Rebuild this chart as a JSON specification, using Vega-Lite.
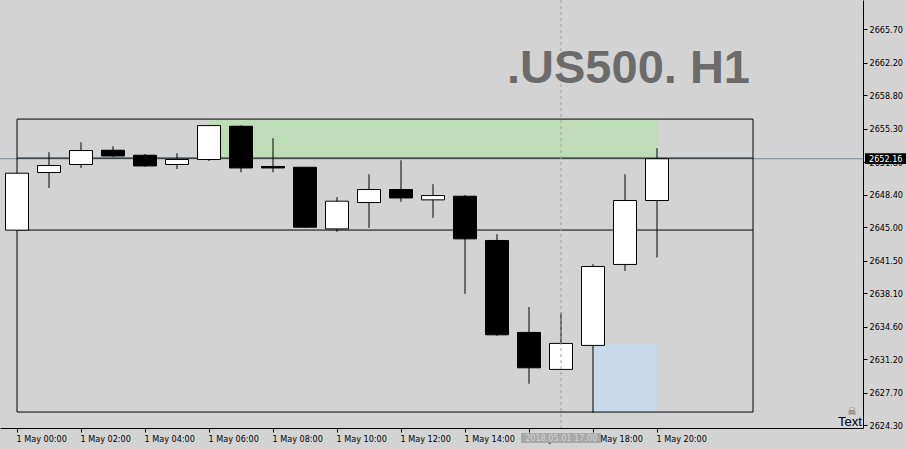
{
  "$schema": "https://vega.github.io/schema/vega-lite/v6.json",
  "width": 863,
  "height": 428,
  "autosize": {"type": "none"},
  "padding": {"left": 0, "top": 0, "right": 43, "bottom": 21},
  "background": "#d3d3d3",
  "config": {
    "view": {"stroke": null, "fill": "#d3d3d3"},
    "axis": {"labelFont": "DejaVu Sans Condensed", "labelFontSize": 9, "labelColor": "#000000", "tickColor": "#000000", "domainColor": "#000000", "grid": false, "title": null, "labelOverlap": false, "labelFlush": false}
  },
  "datasets": {
    "candles": [
      {"h": 0, "o": 2644.69, "hi": 2650.65, "lo": 2644.69, "c": 2650.65},
      {"h": 1, "o": 2650.72, "hi": 2652.84, "lo": 2649.11, "c": 2651.45},
      {"h": 2, "o": 2651.56, "hi": 2653.89, "lo": 2651.20, "c": 2653.02},
      {"h": 3, "o": 2653.05, "hi": 2653.47, "lo": 2652.35, "c": 2652.45},
      {"h": 4, "o": 2652.53, "hi": 2652.66, "lo": 2651.31, "c": 2651.41},
      {"h": 5, "o": 2651.56, "hi": 2652.74, "lo": 2651.10, "c": 2652.08},
      {"h": 6, "o": 2652.08, "hi": 2655.70, "lo": 2651.94, "c": 2655.63},
      {"h": 7, "o": 2655.56, "hi": 2655.66, "lo": 2650.75, "c": 2651.20},
      {"h": 8, "o": 2651.35, "hi": 2654.30, "lo": 2650.75, "c": 2651.20},
      {"h": 9, "o": 2651.27, "hi": 2651.30, "lo": 2644.95, "c": 2645.00},
      {"h": 10, "o": 2644.82, "hi": 2648.14, "lo": 2644.51, "c": 2647.72},
      {"h": 11, "o": 2647.58, "hi": 2650.54, "lo": 2644.93, "c": 2648.94},
      {"h": 12, "o": 2648.94, "hi": 2652.00, "lo": 2647.65, "c": 2648.06},
      {"h": 13, "o": 2647.86, "hi": 2649.50, "lo": 2645.97, "c": 2648.31},
      {"h": 14, "o": 2648.24, "hi": 2648.35, "lo": 2638.03, "c": 2643.78},
      {"h": 15, "o": 2643.61, "hi": 2644.27, "lo": 2633.64, "c": 2633.74},
      {"h": 16, "o": 2633.99, "hi": 2636.64, "lo": 2628.62, "c": 2630.29},
      {"h": 17, "o": 2630.12, "hi": 2636.04, "lo": 2630.10, "c": 2632.84},
      {"h": 18, "o": 2632.63, "hi": 2641.13, "lo": 2625.60, "c": 2640.89},
      {"h": 19, "o": 2641.10, "hi": 2650.54, "lo": 2640.43, "c": 2647.79},
      {"h": 20, "o": 2647.79, "hi": 2653.26, "lo": 2641.83, "c": 2652.16}
    ]
  },
  "layer": [
    {
      "data": {"values": [
        {"x1": 6, "x2": 20, "y1": 2656.31, "y2": 2652.23, "fill": "#bfdcb8"},
        {"x1": 18, "x2": 20, "y1": 2632.85, "y2": 2625.66, "fill": "#c8d9ea"}
      ]},
      "mark": {"type": "rect"},
      "encoding": {
        "x": {"field": "x1", "type": "quantitative", "scale": {"domain": [-0.53125, 26.4375], "nice": false, "zero": false, "padding": 0},
          "axis": {"orient": "bottom", "values": [0, 2, 4, 6, 8, 10, 12, 14, 16, 18, 20], "tickCount": 40, "labelExpr": "'1 May ' + (datum.value < 10 ? '0' : '') + datum.value + ':00'", "tickSize": 4, "labelAlign": "left", "labelPadding": 2, "labelBaseline": "top", "labelOffset": -1, "labelOverlap": false}},
        "x2": {"field": "x2"},
        "y": {"field": "y1", "type": "quantitative", "scale": {"domain": [2623.99, 2668.77], "nice": false, "zero": false, "padding": 0},
          "axis": {"orient": "right", "values": [2665.70, 2662.20, 2658.80, 2655.30, 2651.80, 2648.40, 2645.00, 2641.50, 2638.10, 2634.60, 2631.20, 2627.70, 2624.30], "tickCount": 40, "format": ".2f", "tickSize": 4, "labelPadding": 2, "labelBaseline": "middle", "labelOverlap": false}},
        "y2": {"field": "y2"},
        "fill": {"field": "fill", "type": "nominal", "scale": null}
      }
    },
    {
      "data": {"values": [{"p": 2652.16}]},
      "mark": {"type": "rule", "color": "#778899", "strokeWidth": 1},
      "encoding": {"y": {"field": "p", "type": "quantitative"}}
    },
    {
      "data": {"values": [{"x1": 0, "x2": 23, "y1": 2656.31, "y2": 2625.66}]},
      "mark": {"type": "rect", "fill": null, "stroke": "#000000", "strokeWidth": 1},
      "encoding": {
        "x": {"field": "x1", "type": "quantitative"},
        "x2": {"field": "x2"},
        "y": {"field": "y1", "type": "quantitative"},
        "y2": {"field": "y2"}
      }
    },
    {
      "data": {"values": [{"x1": 0, "x2": 23, "p": 2652.23}, {"x1": 0, "x2": 23, "p": 2644.70}]},
      "mark": {"type": "rule", "color": "#000000", "strokeWidth": 1},
      "encoding": {
        "x": {"field": "x1", "type": "quantitative"},
        "x2": {"field": "x2"},
        "y": {"field": "p", "type": "quantitative"}
      }
    },
    {
      "data": {"name": "candles"},
      "mark": {"type": "rule", "color": "#000000", "strokeWidth": 1},
      "encoding": {
        "x": {"field": "h", "type": "quantitative"},
        "y": {"field": "lo", "type": "quantitative"},
        "y2": {"field": "hi"}
      }
    },
    {
      "data": {"name": "candles"},
      "mark": {"type": "bar", "width": 23, "stroke": "#000000", "strokeWidth": 1},
      "encoding": {
        "x": {"field": "h", "type": "quantitative"},
        "y": {"field": "o", "type": "quantitative"},
        "y2": {"field": "c"},
        "fill": {"condition": {"test": "datum.c > datum.o", "value": "#ffffff"}, "value": "#000000"}
      }
    },
    {
      "data": {"values": [{"h": 17}]},
      "mark": {"type": "rule", "color": "#a0a0a0", "strokeDash": [3, 3], "strokeWidth": 1},
      "encoding": {"x": {"field": "h", "type": "quantitative"}}
    },
    {
      "data": {"values": [{"h": 22.906, "p": 2660.05, "t": ".US500. H1"}]},
      "mark": {"type": "text", "align": "right", "baseline": "alphabetic", "font": "Liberation Sans", "fontWeight": "bold", "fontSize": 47, "color": "#6b6b6b"},
      "encoding": {"x": {"field": "h", "type": "quantitative"}, "y": {"field": "p", "type": "quantitative"}, "text": {"field": "t"}}
    },
    {
      "data": {"values": [{"h": 25.66, "p": 2624.25, "t": "Text"}]},
      "mark": {"type": "text", "align": "left", "baseline": "alphabetic", "font": "Liberation Sans", "fontSize": 13, "color": "#000000"},
      "encoding": {"x": {"field": "h", "type": "quantitative"}, "y": {"field": "p", "type": "quantitative"}, "text": {"field": "t"}}
    },
    {
      "data": {"values": [{"h": 26.09, "p": 2625.3, "t": "☠"}]},
      "mark": {"type": "text", "align": "center", "baseline": "alphabetic", "font": "DejaVu Sans", "fontSize": 11, "color": "#606060"},
      "encoding": {"x": {"field": "h", "type": "quantitative"}, "y": {"field": "p", "type": "quantitative"}, "text": {"field": "t"}}
    },
    {
      "data": {"values": [{"x1": 26.5, "x2": 27.8, "y1": 2652.73, "y2": 2651.61}]},
      "mark": {"type": "rect", "fill": "#000000", "clip": false},
      "encoding": {
        "x": {"field": "x1", "type": "quantitative"},
        "x2": {"field": "x2"},
        "y": {"field": "y1", "type": "quantitative"},
        "y2": {"field": "y2"}
      }
    },
    {
      "data": {"values": [{"h": 26.625, "p": 2652.16, "t": "2652.16"}]},
      "mark": {"type": "text", "align": "left", "baseline": "middle", "font": "DejaVu Sans Condensed", "fontSize": 9, "color": "#ffffff", "clip": false},
      "encoding": {"x": {"field": "h", "type": "quantitative"}, "y": {"field": "p", "type": "quantitative"}, "text": {"field": "t"}}
    },
    {
      "data": {"values": [{"x1": 15.75, "x2": 18.25, "y1": 2623.46, "y2": 2622.42}]},
      "mark": {"type": "rect", "fill": "#a8a8a8", "clip": false},
      "encoding": {
        "x": {"field": "x1", "type": "quantitative"},
        "x2": {"field": "x2"},
        "y": {"field": "y1", "type": "quantitative"},
        "y2": {"field": "y2"}
      }
    },
    {
      "data": {"values": [{"h": 15.88, "p": 2622.94, "t": "2018.05.01 17:00"}]},
      "mark": {"type": "text", "align": "left", "baseline": "middle", "font": "DejaVu Sans Condensed", "fontSize": 9, "color": "#d3d3d3", "clip": false},
      "encoding": {"x": {"field": "h", "type": "quantitative"}, "y": {"field": "p", "type": "quantitative"}, "text": {"field": "t"}}
    }
  ]
}
